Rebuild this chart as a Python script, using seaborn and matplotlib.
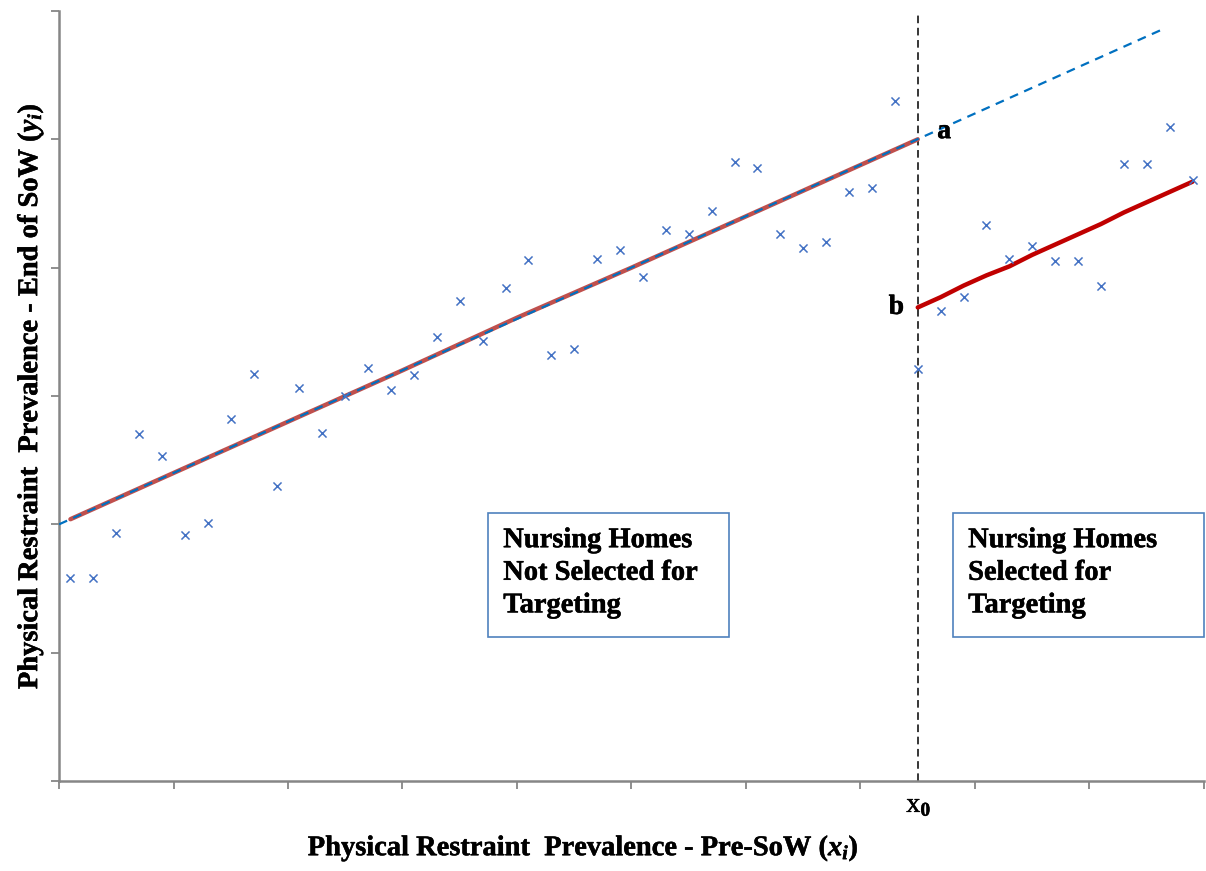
#import libraries
import numpy as np
import pandas as pd
import seaborn as sns
import matplotlib.pyplot as plt
import matplotlib.patheffects as pe
from matplotlib.patches import Rectangle

#data (x in tick units 0-10, y in tick units 0-6)
prev_pre = [0.1, 0.3, 0.5, 0.7, 0.9, 1.1, 1.3, 1.5, 1.7, 1.9,
            2.1, 2.3, 2.5, 2.7, 2.9, 3.1, 3.3, 3.5, 3.7, 3.9,
            4.1, 4.3, 4.5, 4.7, 4.9, 5.1, 5.3, 5.5, 5.7, 5.9,
            6.1, 6.3, 6.5, 6.7, 6.9, 7.1, 7.3, 7.5, 7.7, 7.9,
            8.1, 8.3, 8.5, 8.7, 8.9, 9.1, 9.3, 9.5, 9.7, 9.9]
prev_end = [1.58, 1.58, 1.93, 2.70, 2.53, 1.92, 2.01, 2.82, 3.17, 2.30,
            3.06, 2.71, 3.00, 3.22, 3.05, 3.16, 3.46, 3.74, 3.43, 3.84,
            4.06, 3.32, 3.37, 4.07, 4.14, 3.93, 4.29, 4.26, 4.44, 4.82,
            4.78, 4.26, 4.15, 4.20, 4.59, 4.62, 5.30, 3.21, 3.66, 3.77,
            4.33, 4.07, 4.17, 4.05, 4.05, 3.86, 4.81, 4.81, 5.10, 4.68]

#fitted lines
fit_left_x = [0.1, 1.0, 2.0, 3.0, 4.0, 5.0, 6.0, 7.0, 7.5]
fit_left_y = [2.04, 2.40, 2.80, 3.20, 3.61, 4.00, 4.40, 4.80, 5.00]
fit_right_x = [7.5, 7.7, 7.9, 8.1, 8.3, 8.5, 8.7, 8.9, 9.1, 9.3, 9.5, 9.7, 9.9]
fit_right_y = [3.69, 3.77, 3.86, 3.94, 4.01, 4.10, 4.18, 4.26, 4.34, 4.43, 4.51, 4.59, 4.67]
proj_x = [0.0, 9.62]
proj_y = [2.00, 5.85]

x0 = 7.5
a_val = 5.00
b_val = 3.69

df = pd.DataFrame({"pre": prev_pre, "end": prev_end})

sns.set_style("white")
plt.rcParams['font.family'] = ['Liberation Serif', 'DejaVu Serif']
plt.rcParams['text.color'] = 'black'
plt.rcParams['axes.labelcolor'] = 'black'
plt.rcParams['mathtext.fontset'] = 'custom'
plt.rcParams['mathtext.rm'] = 'Liberation Serif:bold'
plt.rcParams['mathtext.it'] = 'Liberation Serif:italic:bold'
plt.rcParams['mathtext.bf'] = 'Liberation Serif:bold'

heavy = [pe.withStroke(linewidth=0.35, foreground="black")]

fig = plt.figure(figsize=(12.06, 8.71), dpi=100)
ax = fig.add_axes([59/1206, 1-781/871, 1145/1206, 770/871])

sns.lineplot(x=proj_x, y=proj_y, ax=ax, color="#0070C0", lw=1.6, ls=(0, (4, 3)), zorder=3)
sns.lineplot(x=fit_left_x, y=fit_left_y, ax=ax, color="#C0504D", lw=3.2, zorder=2)
sns.lineplot(x=fit_right_x, y=fit_right_y, ax=ax, color="#C00000", lw=3.2, zorder=2)
sns.scatterplot(data=df, x="pre", y="end", ax=ax, marker="x", color="#4472C4",
                s=34, linewidth=1.1, zorder=4)
ax.axvline(x0, color="black", lw=1.1, ls=(0, (5, 3)), zorder=1)

ax.set_xlim(0, 10)
ax.set_ylim(0, 6)
ax.set_xticks(np.arange(0, 11))
ax.set_yticks(np.arange(0, 7))
ax.set_xticklabels([])
ax.set_yticklabels([])
ax.tick_params(direction="out", length=5.5, width=1.3, color="#868686", left=True, bottom=True)
for side in ["top", "right"]:
    ax.spines[side].set_visible(False)
for side in ["left", "bottom"]:
    ax.spines[side].set_color("#868686")
    ax.spines[side].set_linewidth(1.8)

#labels
ax.set_xlabel(r"Physical Restraint  Prevalence - Pre-SoW ($x_i$)", fontsize=20.5,
              fontweight="bold", path_effects=heavy)
ax.set_ylabel(r"Physical Restraint  Prevalence - End of SoW ($y_i$)", fontsize=20.5,
              fontweight="bold", path_effects=heavy)
ax.xaxis.set_label_coords(0.458, -0.068)
ax.yaxis.set_label_coords(-0.012, 0.5)

ax.text(x0 + 0.17, a_val + 0.06, "a", fontsize=20, fontweight="bold", ha="left", va="center",
        path_effects=heavy)
ax.text(x0 - 0.12, b_val, "b", fontsize=20, fontweight="bold", ha="right", va="center",
        path_effects=heavy)
ax.text(x0 + 0.01, -0.19, r"x$_\mathrm{0}$", fontsize=20, ha="center", va="center",
        clip_on=False, path_effects=heavy)

#annotation boxes
for (x_left, x_right, txt) in [(3.75, 5.85, "Nursing Homes\nNot Selected for\nTargeting"),
                               (7.81, 10.0, "Nursing Homes\nSelected for\nTargeting")]:
    ax.add_patch(Rectangle((x_left, 1.12), x_right - x_left, 0.97, fill=False,
                           edgecolor="#4F81BD", lw=1.2, clip_on=False, zorder=5))
    ax.text(x_left + 0.13, 1.97, txt, fontsize=20.5, fontweight="bold", ha="left", va="top",
            linespacing=1.4, zorder=6, path_effects=heavy)

plt.savefig("out.png", dpi=100)
